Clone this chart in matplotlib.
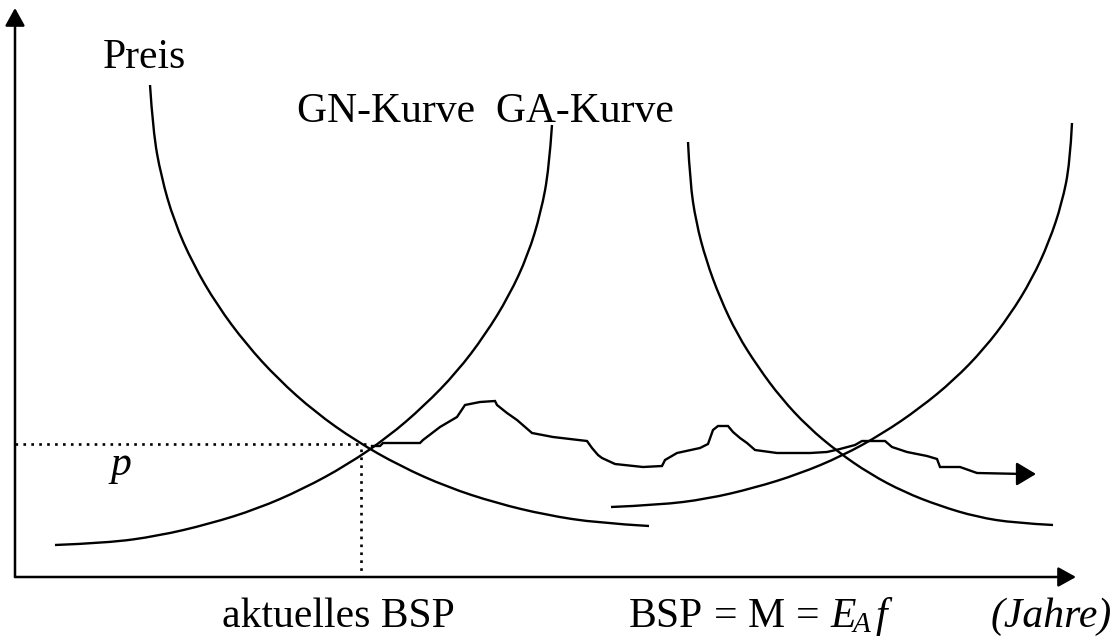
import matplotlib
matplotlib.use("Agg")
import matplotlib.pyplot as plt
from matplotlib.path import Path
from matplotlib.patches import PathPatch

plt.rcParams['font.family'] = ['Liberation Serif', 'DejaVu Serif']
plt.rcParams['mathtext.fontset'] = 'custom'
plt.rcParams['mathtext.rm'] = 'Liberation Serif'
plt.rcParams['mathtext.it'] = 'Liberation Serif:italic'
plt.rcParams['mathtext.bf'] = 'Liberation Serif:bold'

# --- schematic data (x = BSP, y = Preis, screen-like units) ---
gn1_x = [150, 153, 161, 174, 193, 217, 246, 278, 315, 356, 400, 447, 496, 546, 598, 649]
gn1_y = [85, 131, 176, 221, 264, 305, 344, 379, 412, 441, 466, 487, 503, 515, 523, 526]

ga1_x = [55, 107, 158, 209, 257, 303, 347, 388, 424, 457, 485, 509, 528, 541, 549, 552]
ga1_y = [545, 543, 536, 524, 509, 489, 465, 437, 406, 372, 335, 296, 255, 212, 169, 125]

gn2_x = [688, 690, 696, 706, 720, 737, 758, 781, 808, 838, 870, 904, 940, 977, 1015, 1053]
gn2_y = [142, 182, 222, 260, 298, 334, 367, 398, 427, 452, 474, 492, 506, 517, 523, 525]

ga2_x = [611, 659, 707, 754, 799, 842, 882, 920, 954, 984, 1010, 1032, 1049, 1062, 1070, 1072]
ga2_y = [507, 505, 499, 488, 474, 456, 434, 408, 380, 349, 315, 279, 242, 203, 163, 123]

path_x = [372, 380, 383, 420, 423, 440, 457, 465, 480, 495, 497, 507, 517, 532, 553, 587,
          592, 598, 602, 615, 643, 662, 665, 677, 700, 708, 713, 718, 728, 733, 740, 747,
          755, 777, 810, 827, 840, 855, 862, 885, 892, 907, 927, 937, 940, 960, 977, 1024]
path_y = [446, 446, 443, 443, 440, 427, 417, 405, 402, 401, 405, 413, 420, 433, 437, 441,
          448, 455, 458, 464, 467, 466, 460, 453, 448, 444, 430, 426, 426, 432, 438, 443,
          450, 453, 453, 452, 449, 445, 441, 441, 447, 452, 456, 459, 467, 467, 473, 474]

eq_x, eq_p = 361, 444          # equilibrium: aktuelles BSP, Preis p
origin = (15, 577)
x_end, y_end = 1076, 8

fig = plt.figure(figsize=(11.15, 6.39), dpi=100)
ax = fig.add_axes([0, 0, 1, 1])
ax.set_xlim(0, 1115)
ax.set_ylim(639, 0)
ax.axis('off')

lw = 1.7


def smooth_curve(xs, ys):
    """Quadratic-spline path with the read points as control points."""
    pts = list(zip(xs, ys))
    verts = [pts[0]]
    codes = [Path.MOVETO]
    for i in range(1, len(pts) - 1):
        mid = ((pts[i][0] + pts[i + 1][0]) / 2, (pts[i][1] + pts[i + 1][1]) / 2)
        if i == len(pts) - 2:
            mid = pts[-1]
        verts += [pts[i], mid]
        codes += [Path.CURVE3, Path.CURVE3]
    return Path(verts, codes)


for xs, ys in [(gn1_x, gn1_y), (ga1_x, ga1_y), (gn2_x, gn2_y), (ga2_x, ga2_y)]:
    ax.add_patch(PathPatch(smooth_curve(xs, ys), facecolor='none', edgecolor='black',
                           lw=lw, capstyle='butt'))

ax.plot(path_x, path_y, color='black', lw=lw, solid_joinstyle='miter')
ax.annotate('', xy=(path_x[-1] + 12, path_y[-1]), xytext=(path_x[-1], path_y[-1]),
            arrowprops=dict(arrowstyle='-|>,head_length=0.5,head_width=0.3',
                            mutation_scale=24, lw=lw, color='black',
                            shrinkA=0, shrinkB=0))

# dotted guide lines
ax.plot([origin[0], eq_x + 7], [eq_p, eq_p], color='black', lw=1.9, linestyle=(0, (1.0, 2.0)))
ax.plot([eq_x, eq_x], [eq_p + 5, origin[1]], color='black', lw=1.9, linestyle=(0, (1.0, 2.0)))

# axes with arrows
for tip in [(x_end, origin[1]), (origin[0], y_end)]:
    ax.annotate('', xy=tip, xytext=origin,
                arrowprops=dict(arrowstyle='-|>,head_length=0.45,head_width=0.25',
                                mutation_scale=24, lw=1.8, color='black',
                                shrinkA=0, shrinkB=0))

fs = 30
ax.text(103, 68, 'Preis', fontsize=fs, ha='left', va='baseline')
ax.text(297, 122, 'GN-Kurve  GA-Kurve', fontsize=fs, ha='left', va='baseline')
ax.text(110, 475, 'p', fontsize=fs, style='italic', ha='left', va='baseline')
ax.text(222, 627, 'aktuelles BSP', fontsize=fs, ha='left', va='baseline')
ax.text(628, 627, r'$\mathrm{BSP}\,=\,\mathrm{M}\,=\,E_{\!A}\,f$', fontsize=fs,
        ha='left', va='baseline')
ax.text(991, 627, '(Jahre)', fontsize=fs, style='italic', ha='left', va='baseline')

fig.savefig('out.png', dpi=100)
